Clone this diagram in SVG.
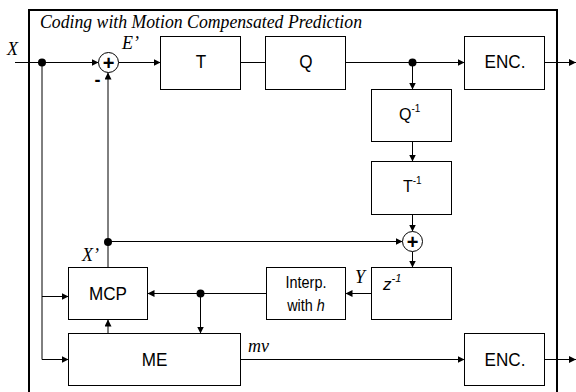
<svg xmlns="http://www.w3.org/2000/svg" width="576" height="392" viewBox="0 0 576 392">
<defs>
<style>
.box{fill:#fff;stroke:#000;stroke-width:1}
.ln{fill:none;stroke:#000;stroke-width:1}
.arr{marker-end:url(#ah)}
.lbl{font-family:"Liberation Sans",Arial,sans-serif;font-size:19px;text-anchor:middle;fill:#000}
.sm{font-family:"Liberation Sans",Arial,sans-serif;font-size:16px;fill:#000}
.sup{font-size:10px}
.it{font-family:"Liberation Serif","Times New Roman",serif;font-style:italic;font-size:18px;fill:#000}
.plus{font-family:"Liberation Sans",Arial,sans-serif;font-weight:bold;font-size:20px;text-anchor:middle;fill:#000}
.dot{fill:#000}
</style>
<marker id="ah" markerUnits="userSpaceOnUse" markerWidth="7" markerHeight="7" refX="7" refY="3.5" orient="auto">
<path d="M0,0 L7,3.5 L0,7 z" fill="#000"/>
</marker>
</defs>
<rect width="576" height="392" fill="#fff"/>
<g id="frame">
<rect x="29" y="10" width="528" height="400" fill="none" stroke="#000" stroke-width="2"/>
<text class="it" x="40" y="28" textLength="322" lengthAdjust="spacingAndGlyphs">Coding with Motion Compensated Prediction</text>
</g>
<g id="connectors">
<path class="ln arr" d="M15,62.5 H98.5"/>
<path class="ln arr" d="M118.5,62.5 H160.5"/>
<path class="ln" d="M240.5,62.5 H265.5"/>
<path class="ln arr" d="M345.5,62.5 H464.5"/>
<path class="ln arr" d="M544.5,62.5 H576"/>
<path class="ln arr" d="M412.5,62.5 V89.5"/>
<path class="ln arr" d="M412.5,141.5 V161.5"/>
<path class="ln arr" d="M412.5,214.5 V231.5"/>
<path class="ln arr" d="M108,241.5 H402.5"/>
<path class="ln arr" d="M412.5,251.5 V267.5"/>
<path class="ln arr" d="M371.5,293.5 H345.5"/>
<path class="ln arr" d="M266.5,293.5 H147.5"/>
<path class="ln arr" d="M200.5,293.5 V333.5"/>
<path class="ln arr" d="M108,333.5 V319.5"/>
<path class="ln arr" d="M108,267.5 V72.5"/>
<path class="ln" d="M42,62.5 V359.5"/>
<path class="ln arr" d="M42,296.5 H68.5"/>
<path class="ln arr" d="M42,359.5 H68.5"/>
<path class="ln arr" d="M240.5,359.5 H464.5"/>
<path class="ln arr" d="M544.5,359.5 H576"/>
<circle class="dot" cx="42" cy="62.5" r="4"/>
<circle class="dot" cx="412.5" cy="62.5" r="4"/>
<circle class="dot" cx="108" cy="242" r="4"/>
<circle class="dot" cx="200.5" cy="293.5" r="4"/>
<text class="it" x="7" y="55">X</text>
<text class="it" x="122" y="49">E’</text>
<text class="it" x="82" y="261">X’</text>
<text class="it" x="355" y="283">Y</text>
<text class="it" x="248" y="352">mv</text>
<text x="97.5" y="86" style="font-family:'Liberation Sans',Arial,sans-serif;font-weight:bold;font-size:18px;text-anchor:middle">-</text>
</g>
<g id="sum1">
<circle cx="108.5" cy="62.5" r="10" fill="#fff" stroke="#000"/>
<text class="plus" x="108.5" y="69.5">+</text>
</g>
<g id="sum2">
<circle cx="412.5" cy="241.5" r="10" fill="#fff" stroke="#000"/>
<text class="plus" x="412.5" y="248.5">+</text>
</g>
<g id="T">
<rect class="box" x="160.5" y="36.5" width="80" height="53"/>
<text class="lbl" transform="translate(201,68) scale(0.9,1)">T</text>
</g>
<g id="Q">
<rect class="box" x="265.5" y="36.5" width="80" height="53"/>
<text class="lbl" transform="translate(306,68) scale(0.9,1)">Q</text>
</g>
<g id="ENC1">
<rect class="box" x="464.5" y="36.5" width="80" height="53"/>
<text class="lbl" transform="translate(505,68) scale(0.9,1)">ENC.</text>
</g>
<g id="Qinv">
<rect class="box" x="371.5" y="89.5" width="80" height="52"/>
<text class="sm" x="399" y="120">Q<tspan class="sup" dy="-8">-1</tspan></text>
</g>
<g id="Tinv">
<rect class="box" x="371.5" y="161.5" width="80" height="53"/>
<text class="sm" x="403" y="192">T<tspan class="sup" dy="-8">-1</tspan></text>
</g>
<g id="zinv">
<rect class="box" x="371.5" y="267.5" width="80" height="52"/>
<text class="sm" x="383" y="290" style="font-style:italic;font-size:17px">z<tspan style="font-size:11px" dy="-8">-1</tspan></text>
</g>
<g id="Interp">
<rect class="box" x="266.5" y="267.5" width="79" height="52"/>
<text class="lbl" style="font-size:16px" transform="translate(306,288) scale(0.9,1)">Interp.</text>
<text class="lbl" style="font-size:16px" transform="translate(306,311) scale(0.9,1)">with <tspan font-style="italic">h</tspan></text>
</g>
<g id="MCP">
<rect class="box" x="68.5" y="267.5" width="79" height="52"/>
<text class="lbl" transform="translate(108,300) scale(0.9,1)">MCP</text>
</g>
<g id="ME">
<rect class="box" x="68.5" y="333.5" width="172" height="52"/>
<text class="lbl" transform="translate(154.5,365.5) scale(0.9,1)">ME</text>
</g>
<g id="ENC2">
<rect class="box" x="464.5" y="333.5" width="80" height="52"/>
<text class="lbl" transform="translate(505,365.5) scale(0.9,1)">ENC.</text>
</g>
</svg>
